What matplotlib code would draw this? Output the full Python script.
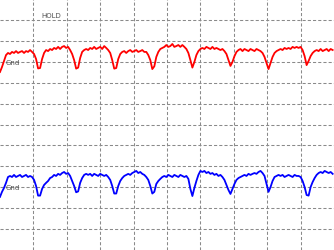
import numpy as np
import matplotlib
matplotlib.use("Agg")
import matplotlib.pyplot as plt

# Scope screen: 10 x 12 divisions, traces in mV at 100 mV/div, offset from each channel's ground
h_divs = 10
v_divs = 12
mv_per_div = 100.0
sample_step = 0.06  # divisions between samples

ch1_ground = 3.0
ch2_ground = -3.0

ch1_mv = [-49, -25, 4, 32, 42, 37, 47, 42, 51, 42, 47, 51, 42, 51, 47, 56, 47, 37, 13, -32,
          -30, 13, 42, 56, 51, 61, 56, 66, 61, 71, 61, 71, 75, 66, 71, 56, 37, 8, -33, -28,
          18, 47, 56, 61, 56, 66, 61, 71, 61, 66, 71, 61, 75, 66, 56, 42, 8, -33, -30, 13,
          37, 47, 51, 42, 51, 56, 47, 51, 56, 47, 51, 56, 47, 47, 32, 8, -35, -22, 23, 47,
          61, 66, 71, 80, 71, 75, 85, 71, 75, 80, 71, 80, 71, 61, 42, 8, -28, -1, 32, 51,
          61, 66, 61, 71, 66, 61, 71, 61, 66, 61, 56, 61, 51, 37, 8, -20, -1, 27, 47, 56,
          61, 51, 61, 56, 51, 61, 56, 51, 61, 56, 51, 42, 23, -6, -35, -6, 23, 42, 51, 56,
          61, 56, 66, 61, 66, 61, 71, 66, 71, 66, 71, 56, 27, -16, 4, 27, 42, 51, 56, 51,
          61, 51, 56, 61, 51, 61, 56]

ch2_mv = [-46, -22, -3, 21, 49, 54, 49, 59, 49, 54, 59, 49, 54, 59, 49, 54, 49, 35, 6, -40,
          -40, -8, 11, 21, 30, 44, 49, 59, 54, 64, 59, 68, 73, 64, 68, 54, 30, 6, -24, -20,
          21, 44, 59, 64, 59, 64, 54, 64, 59, 54, 64, 59, 54, 59, 49, 35, 6, -30, -30, 6,
          30, 44, 54, 59, 64, 59, 68, 73, 78, 68, 73, 64, 59, 49, 35, 6, -30, -22, 16, 30,
          40, 49, 54, 49, 59, 54, 49, 59, 54, 49, 59, 54, 49, 54, 40, -8, -42, -3, 30, 59,
          78, 73, 78, 68, 73, 64, 68, 59, 64, 54, 59, 49, 35, 11, -13, -32, -8, 16, 35, 44,
          49, 54, 59, 54, 64, 59, 64, 68, 64, 73, 78, 68, 54, 16, -22, 1, 30, 49, 54, 59,
          54, 59, 49, 54, 59, 54, 49, 59, 54, 54, 49, 30, 1, -37, -40, 1, 25, 44, 59, 68,
          73, 68, 78, 73, 68, 73, 64]

t1 = np.arange(len(ch1_mv)) * sample_step
t2 = np.arange(len(ch2_mv)) * sample_step
y1 = ch1_ground + np.array(ch1_mv) / mv_per_div
y2 = ch2_ground + np.array(ch2_mv) / mv_per_div

fig = plt.figure(figsize=(3.34, 2.51), dpi=100)
ax = fig.add_axes([0, 0, 1, 1])
ax.set_xlim(0, h_divs)
ax.set_ylim(-v_divs / 2, v_divs / 2)

# dashed graticule
for i in range(1, h_divs):
    ax.axvline(i, color="#8a8a8a", lw=0.75, ls=(0, (3, 2)), zorder=1)
for j in range(-v_divs // 2 + 1, v_divs // 2):
    ax.axhline(j, color="#8a8a8a", lw=0.75, ls=(0, (3, 2)), zorder=1)

ax.plot(t1, y1, color="#ff0000", lw=1.3, zorder=3)
ax.plot(t2, y2, color="#0000ff", lw=1.3, zorder=3)

ax.text(1.53, 5.25, "HOLD", fontsize=5, color="#505050", ha="center", va="center")
ax.text(0.17, ch1_ground, "Gnd", fontsize=5, color="#505050", ha="left", va="center", zorder=2)
ax.text(0.17, ch2_ground, "Gnd", fontsize=5, color="#505050", ha="left", va="center", zorder=2)

for s in ax.spines.values():
    s.set_visible(False)
ax.set_xticks([])
ax.set_yticks([])

fig.savefig("out.png", dpi=100)
